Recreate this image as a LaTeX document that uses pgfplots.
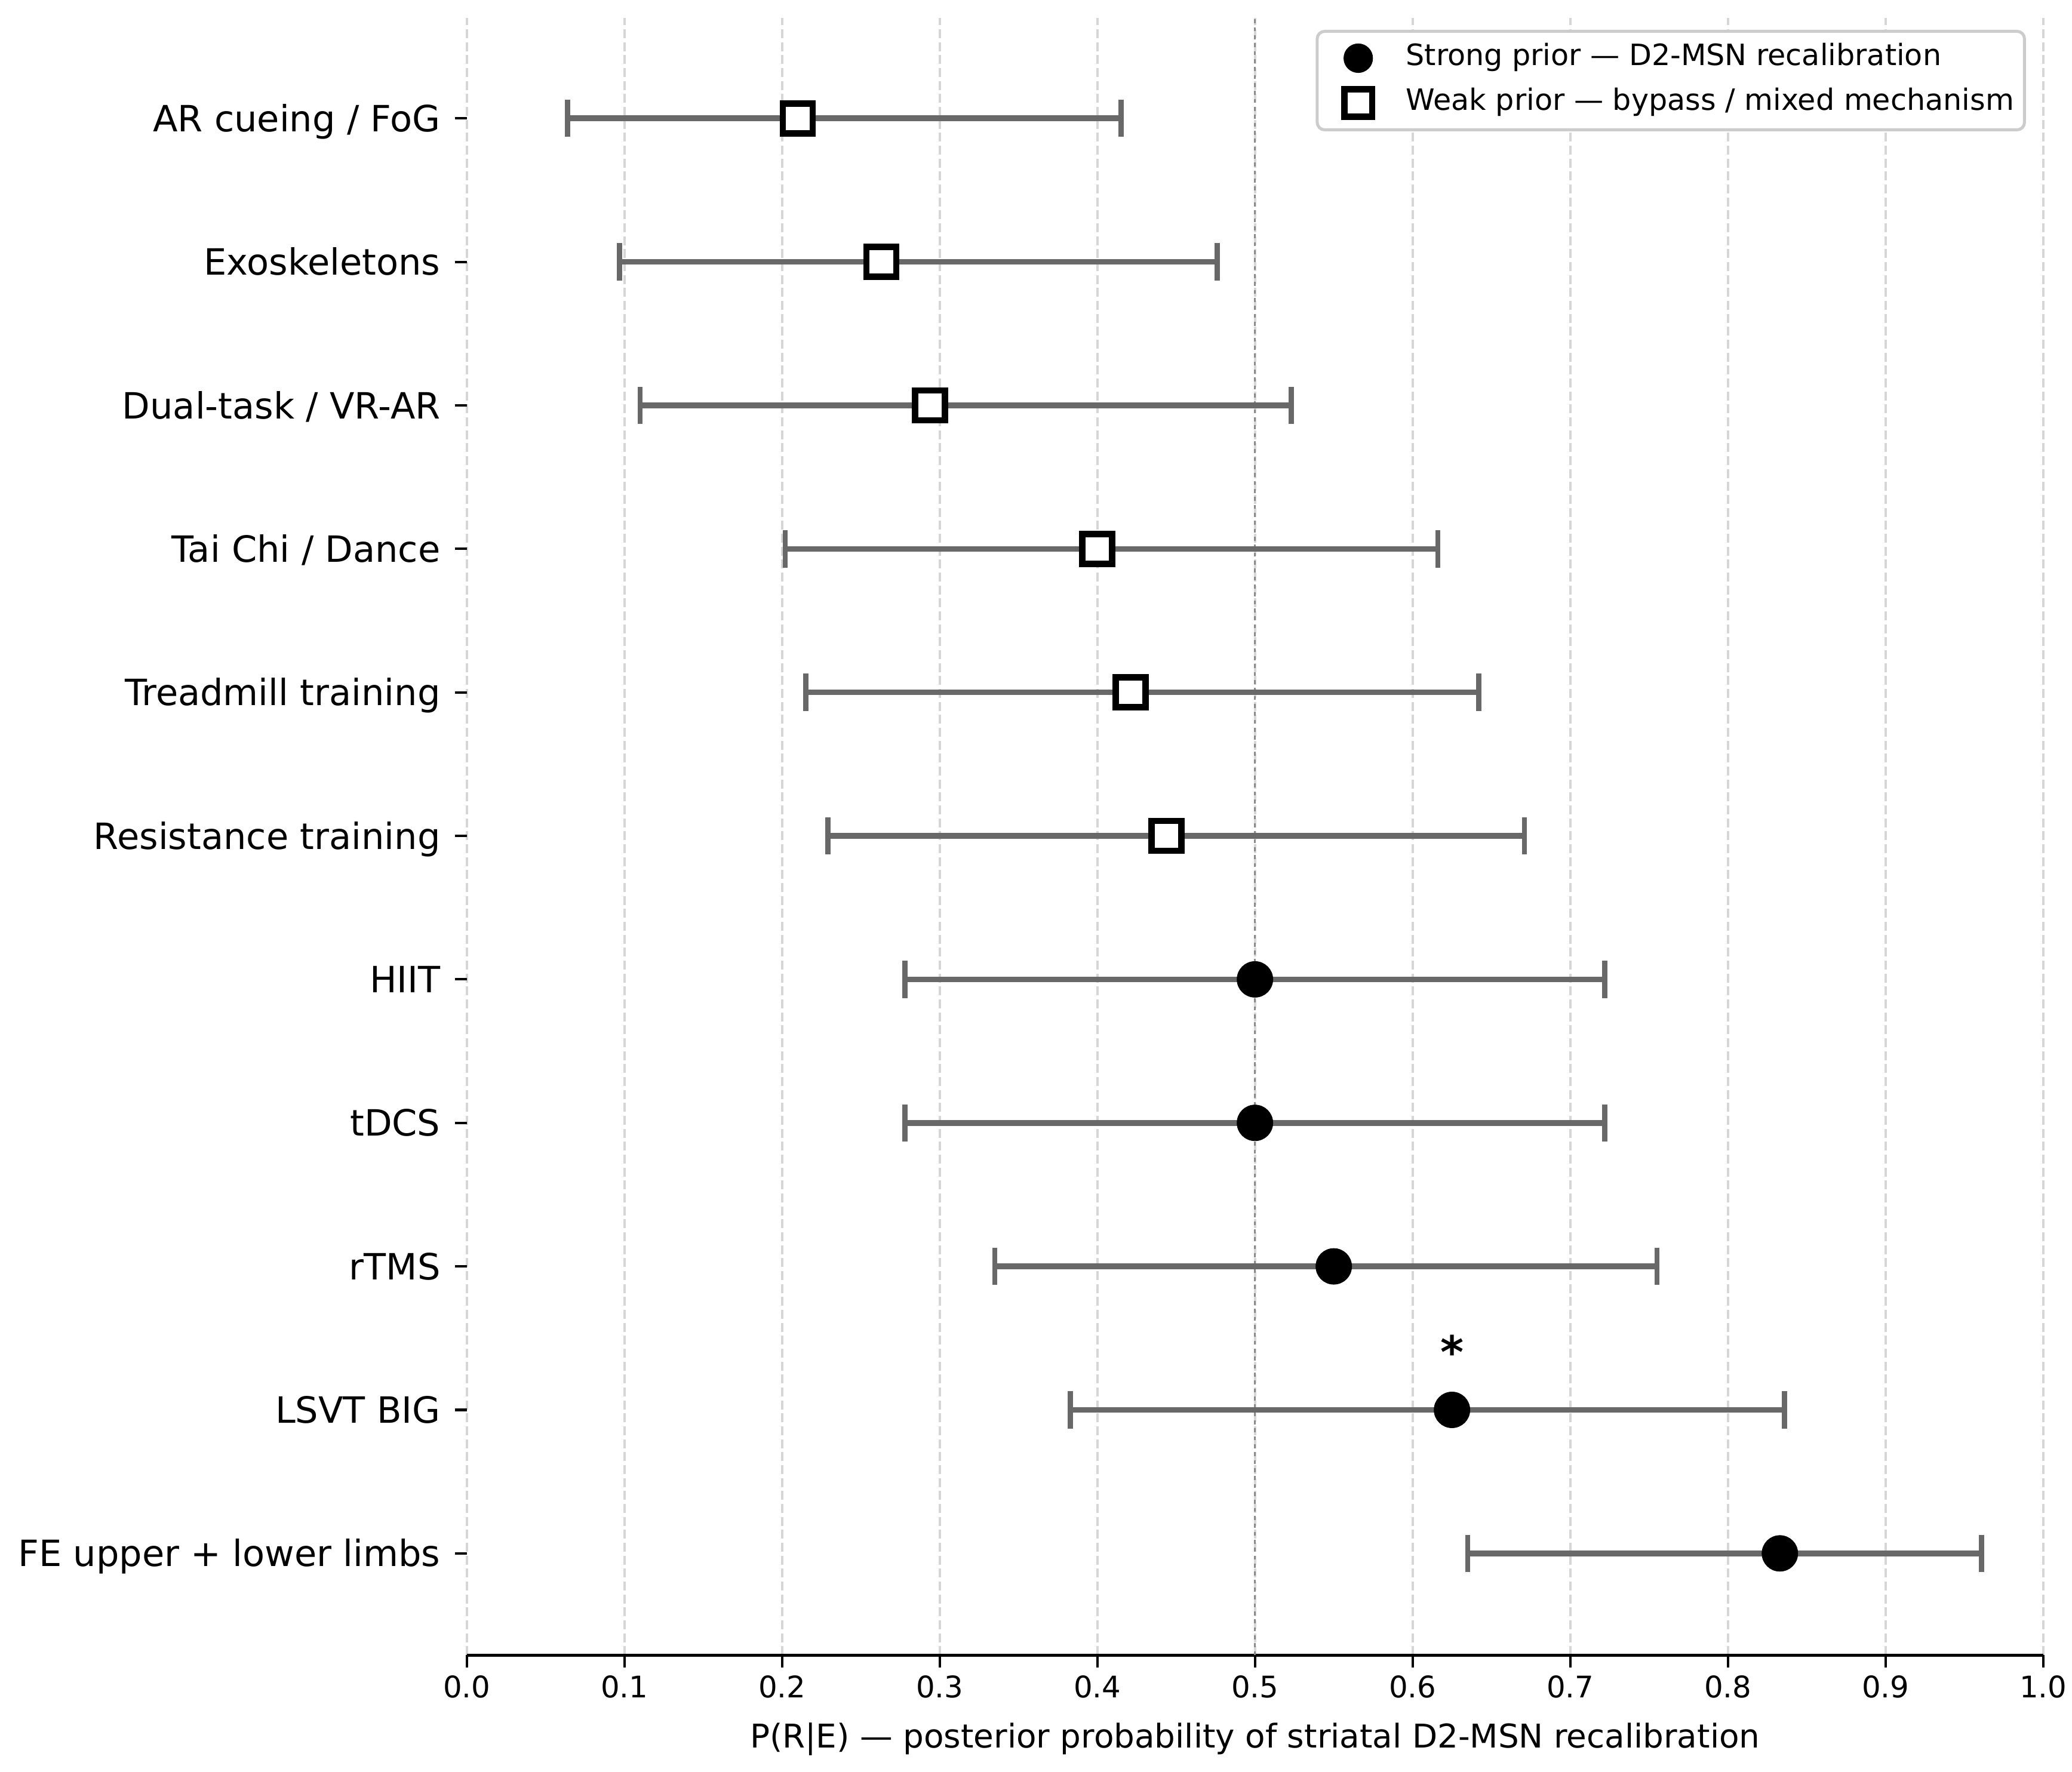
\documentclass[border=0pt]{standalone}
\usepackage{fontspec}
\setmainfont{DejaVu Sans}
\usepackage{pgfplots}
\usepackage{pgfplotstable}
\pgfplotsset{compat=1.18}
\definecolor{errgray}{HTML}{686868}
\definecolor{gridgray}{HTML}{D6D6D6}
\definecolor{refgray}{HTML}{8C8C8C}
\definecolor{legborder}{HTML}{CCCCCC}

\pgfplotsset{
  legcirc/.style={legend image code/.code={\path[draw=none, fill=none] (0bp,-1bp) rectangle (27.1bp,1bp); \draw[##1, mark size=5.8bp] plot coordinates {(14.3bp,0bp)};}},
  legsq/.style={legend image code/.code={\path[draw=none, fill=none] (0bp,-1bp) rectangle (27.1bp,1bp); \draw[##1, mark size=5.6bp] plot coordinates {(14.3bp,0bp)};}},
}

% strong prior (filled circles)
\pgfplotstableread{
y c lo hi
4 0.500 0.278 0.722
3 0.500 0.278 0.722
2 0.550 0.335 0.755
1 0.625 0.383 0.836
0 0.833 0.635 0.961
}\strongdata
% weak prior (open squares)
\pgfplotstableread{
y c lo hi
10 0.210 0.064 0.415
9 0.263 0.097 0.476
8 0.294 0.110 0.523
7 0.400 0.202 0.616
6 0.421 0.215 0.642
5 0.444 0.229 0.671
}\weakdata

\begin{document}
\begin{tikzpicture}
\begin{axis}[
  scale only axis, width=633.6bp, height=658.2bp,
  xmin=0, xmax=1, ymin=-0.71, ymax=10.7,
  axis x line*=bottom, axis y line*=left,
  y axis line style={draw opacity=0},
  x axis line style={line width=1.2bp, black},
  tick align=outside, major tick length=4.8bp,
  tick style={black, line width=1bp},
  /pgf/number format/assume math mode=true,
  xtick={0,0.1,0.2,0.3,0.4,0.5,0.6,0.7,0.8,0.9,1},
  xticklabel style={/pgf/number format/.cd, fixed, fixed zerofill, precision=1, /tikz/.cd,
     font=\fontsize{12}{14}\selectfont, inner sep=0pt, anchor=north, yshift=-3.2bp},
  ytick={0,1,2,3,4,5,6,7,8,9,10},
  yticklabels={{FE upper + lower limbs},{LSVT BIG},{rTMS},{tDCS},{HIIT},{Resistance training},{Treadmill training},{Tai Chi / Dance},{Dual-task / VR-AR},{Exoskeletons},{AR cueing / FoG}},
  yticklabel style={font=\fontsize{14.6}{17}\selectfont, inner sep=0pt, anchor=base east, yshift=-5.3bp, xshift=-5.6bp},
  xmajorgrids, ymajorgrids=false,
  major grid style={gridgray, line width=0.9bp, dash pattern=on 3.6bp off 1.6bp},
  xlabel={P(R|E) — posterior probability of striatal D2-MSN recalibration},
  xlabel style={font=\fontsize{13.2}{16}\selectfont, at={(axis description cs:0.5,0)}, anchor=base, yshift=-37.3bp, inner sep=0pt},
  legend cell align=left,
  legend style={at={(1,1)}, anchor=north east, xshift=-6.9bp, yshift=-4.8bp,
     draw=legborder, line width=1.2bp, rounded corners=3bp, fill=white,
     font=\fontsize{11.85}{14}\selectfont, inner xsep=2.2bp, inner ysep=3.3bp,
     nodes={inner sep=2bp, text height=8.5bp, text depth=2.5bp}, row sep=3bp, column sep=4.4bp},
]
\addplot[refgray, line width=0.8bp, dash pattern=on 1.6bp off 1.6bp, forget plot] coordinates {(0.5,-0.71) (0.5,10.7)};

\addplot[forget plot, only marks, mark=none,
  error bars/.cd, x dir=both, x explicit,
  error bar style={draw=errgray, line width=2.3bp},
  error mark options={draw=errgray, line width=2.1bp, mark size=7.5bp, rotate=90}]
  table[x=c, y=y, x error plus expr=\thisrow{hi}-\thisrow{c}, x error minus expr=\thisrow{c}-\thisrow{lo}] {\strongdata};
\addplot[forget plot, only marks, mark=none,
  error bars/.cd, x dir=both, x explicit,
  error bar style={draw=errgray, line width=2.3bp},
  error mark options={draw=errgray, line width=2.1bp, mark size=7.5bp, rotate=90}]
  table[x=c, y=y, x error plus expr=\thisrow{hi}-\thisrow{c}, x error minus expr=\thisrow{c}-\thisrow{lo}] {\weakdata};

\addplot[only marks, mark=*, mark size=7.2bp, black, mark options={line width=0.2bp, draw=black, fill=black}, legcirc]
  table[x=c, y=y] {\strongdata};
\addlegendentry{Strong prior — D2-MSN recalibration}
\addplot[only marks, mark=square*, mark size=6bp, black, mark options={line width=2.6bp, draw=black, fill=white}, legsq]
  table[x=c, y=y] {\weakdata};
\addlegendentry{Weak prior — bypass / mixed mechanism}

\node[font=\bfseries\fontsize{18}{18}\selectfont, inner sep=0pt] at (axis cs:0.625,1.405) {*};

\coordinate (sw) at (rel axis cs:0,0);
\coordinate (ne) at (rel axis cs:1,1);
\end{axis}
\pgfresetboundingbox
\path[use as bounding box] ([xshift=-187.6bp,yshift=-46.9bp]sw) rectangle ([xshift=11.6bp,yshift=7.2bp]ne);
\end{tikzpicture}
\end{document}
